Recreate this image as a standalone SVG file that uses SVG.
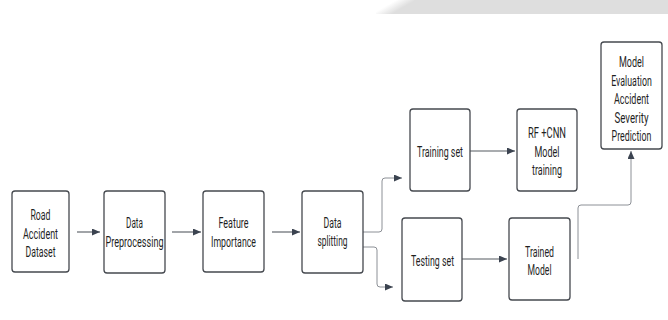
<svg xmlns="http://www.w3.org/2000/svg" width="668" height="320" viewBox="0 0 668 320">
  <defs>
    <style>
      .box { fill: #ffffff; stroke: #45494f; stroke-width: 1.3; }
      .lbl { font-family: Roboto, "Liberation Sans", sans-serif; font-size: 14px; fill: #1f1f1f; text-anchor: middle; }
      .flow { fill: none; stroke: #555a61; stroke-width: 1.1; }
      .branch { fill: none; stroke: #8c9096; stroke-width: 1; }
    </style>
    <marker id="head" markerUnits="userSpaceOnUse" markerWidth="9" markerHeight="8" refX="8" refY="3.5" orient="auto">
      <path d="M0,0 L8,3.5 L0,7 z" fill="#3b4350"/>
    </marker>
    <linearGradient id="bandFade" gradientUnits="userSpaceOnUse" x1="391.5" y1="2.7" x2="396.5" y2="11.3">
      <stop offset="0" stop-color="#dedede" stop-opacity="0"/>
      <stop offset="1" stop-color="#dedede" stop-opacity="1"/>
    </linearGradient>
  </defs>

  <rect width="668" height="320" fill="#ffffff"/>
  <!-- header band, top right -->
  <rect x="376" y="0" width="292" height="14" fill="url(#bandFade)"/>

  <g id="connectors">
    <path class="flow" d="M77,232 H100" marker-end="url(#head)"/>
    <path class="flow" d="M172,232 H201" marker-end="url(#head)"/>
    <path class="flow" d="M272,232 H300" marker-end="url(#head)"/>
    <path class="branch" d="M363,232 H379 Q382,232 382,229 V181 Q382,178 385,178 H402" marker-end="url(#head)"/>
    <path class="branch" d="M363,247 H374 Q377,247 377,250 V284 Q377,287 380,287 H393" marker-end="url(#head)"/>
    <path class="flow" d="M470,151 H515" marker-end="url(#head)"/>
    <path class="flow" d="M462,259 H507" marker-end="url(#head)"/>
    <path class="branch" d="M578,259 V208 Q578,205 581,205 H628 Q631,205 631,202 V151" marker-end="url(#head)"/>
  </g>

  <g id="road-accident-dataset">
    <rect class="box" x="12" y="191" width="57" height="81" rx="3"/>
    <text class="lbl" x="40.5" y="220" textLength="20" lengthAdjust="spacingAndGlyphs">Road</text>
    <text class="lbl" x="40.5" y="238.5" textLength="35" lengthAdjust="spacingAndGlyphs">Accident</text>
    <text class="lbl" x="40.5" y="257" textLength="30" lengthAdjust="spacingAndGlyphs">Dataset</text>
  </g>

  <g id="data-preprocessing">
    <rect class="box" x="104" y="191" width="61" height="82" rx="3"/>
    <text class="lbl" x="134.5" y="228" textLength="17" lengthAdjust="spacingAndGlyphs">Data</text>
    <text class="lbl" x="134.5" y="247" textLength="58" lengthAdjust="spacingAndGlyphs">Preprocessing</text>
  </g>

  <g id="feature-importance">
    <rect class="box" x="203" y="191" width="61" height="81" rx="3"/>
    <text class="lbl" x="233.5" y="228" textLength="30" lengthAdjust="spacingAndGlyphs">Feature</text>
    <text class="lbl" x="233.5" y="247" textLength="45" lengthAdjust="spacingAndGlyphs">Importance</text>
  </g>

  <g id="data-splitting">
    <rect class="box" x="302" y="191" width="61" height="82" rx="3"/>
    <text class="lbl" x="332.5" y="228" textLength="18" lengthAdjust="spacingAndGlyphs">Data</text>
    <text class="lbl" x="332.5" y="246" textLength="30" lengthAdjust="spacingAndGlyphs">splitting</text>
  </g>

  <g id="training-set">
    <rect class="box" x="410" y="109" width="60" height="82" rx="3"/>
    <text class="lbl" x="440" y="157" textLength="46" lengthAdjust="spacingAndGlyphs">Training set</text>
  </g>

  <g id="testing-set">
    <rect class="box" x="402" y="218" width="60" height="83" rx="3"/>
    <text class="lbl" x="432.5" y="266" textLength="43" lengthAdjust="spacingAndGlyphs">Testing set</text>
  </g>

  <g id="rf-cnn-training">
    <rect class="box" x="517" y="109" width="60" height="82" rx="3"/>
    <text class="lbl" x="547" y="138" textLength="38" lengthAdjust="spacingAndGlyphs">RF +CNN</text>
    <text class="lbl" x="547" y="157" textLength="25" lengthAdjust="spacingAndGlyphs">Model</text>
    <text class="lbl" x="547" y="175" textLength="30" lengthAdjust="spacingAndGlyphs">training</text>
  </g>

  <g id="trained-model">
    <rect class="box" x="509" y="218" width="61" height="82" rx="3"/>
    <text class="lbl" x="539.5" y="257" textLength="29" lengthAdjust="spacingAndGlyphs">Trained</text>
    <text class="lbl" x="539.5" y="275" textLength="24" lengthAdjust="spacingAndGlyphs">Model</text>
  </g>

  <g id="model-evaluation">
    <rect class="box" x="601" y="42" width="61" height="107" rx="3"/>
    <text class="lbl" x="631.5" y="67" textLength="25" lengthAdjust="spacingAndGlyphs">Model</text>
    <text class="lbl" transform="translate(631.5,86) scale(0.63,1)">Evaluation</text>
    <text class="lbl" x="631.5" y="104" textLength="35" lengthAdjust="spacingAndGlyphs">Accident</text>
    <text class="lbl" x="631.5" y="123" textLength="34" lengthAdjust="spacingAndGlyphs">Severity</text>
    <text class="lbl" transform="translate(631.5,141) scale(0.63,1)">Prediction</text>
  </g>
</svg>
